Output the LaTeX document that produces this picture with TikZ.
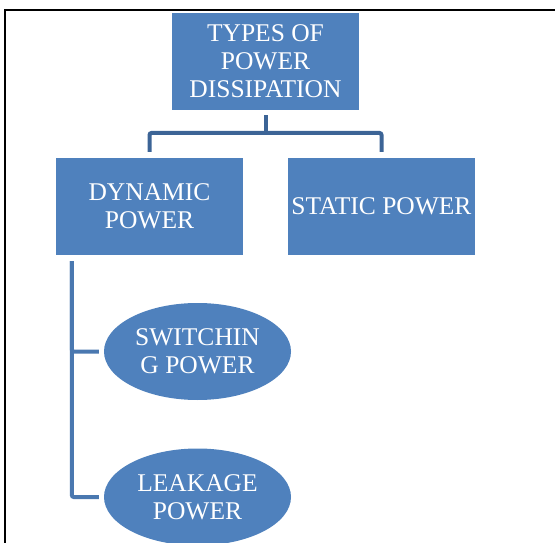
\documentclass[tikz,border=0pt]{standalone}
\usepackage{fontspec}
\setmainfont{Liberation Serif}
\usepackage{tikz}
\usetikzlibrary{positioning, shapes.geometric}
\usepackage{xcolor}
\definecolor{boxblue}{RGB}{79,129,189}
\definecolor{linkdark}{RGB}{60,100,150}
\definecolor{linklight}{RGB}{74,120,176}

\tikzset{
  typebox/.style={fill=boxblue, text=white, align=center, inner sep=0pt,
    minimum width=187pt, minimum height=97pt, font=\fontsize{25.5}{28}\selectfont},
  typeoval/.style={typebox, ellipse},
  link/.style={linkdark, line width=4pt, rounded corners=2pt},
  frame/.style={black, line width=2pt}
}

\begin{document}
\begin{tikzpicture}[x=1pt, y=-1pt]
  \useasboundingbox (0,0) rectangle (555,543);
  \clip (0,0) rectangle (555,543);
  \draw[frame] (5,543) -- (5,10.3) -- (555,10.3);

  \node[typebox] (types) at (265.5,61.5) {TYPES OF\\POWER\\DISSIPATION};
  \node[typebox] (dyn) at (149.5,206.5) {DYNAMIC\\POWER};
  \node[typebox] (stat) at (381.5,206.5) {STATIC POWER};
  \node[typeoval] (switch) at (197.5,351.5) {SWITCHIN\\G POWER};
  \node[typeoval] (leak) at (197.5,497) {LEAKAGE\\POWER};

  % top level
  \coordinate (bar) at (265.5,133);
  \draw[link] ([yshift=-5pt]types.south) -- (bar);
  \draw[link] ([yshift=6pt]dyn.north) |- (bar) -| ([yshift=6pt]stat.north);

  % dynamic power branches
  \coordinate (trunk) at ([xshift=16pt,yshift=-6pt]dyn.south west);
  \draw[link, linklight] (trunk) |- ([xshift=-5pt]switch.west);
  \draw[link, linklight] (trunk) |- ([xshift=-5pt]leak.west);
\end{tikzpicture}
\end{document}
